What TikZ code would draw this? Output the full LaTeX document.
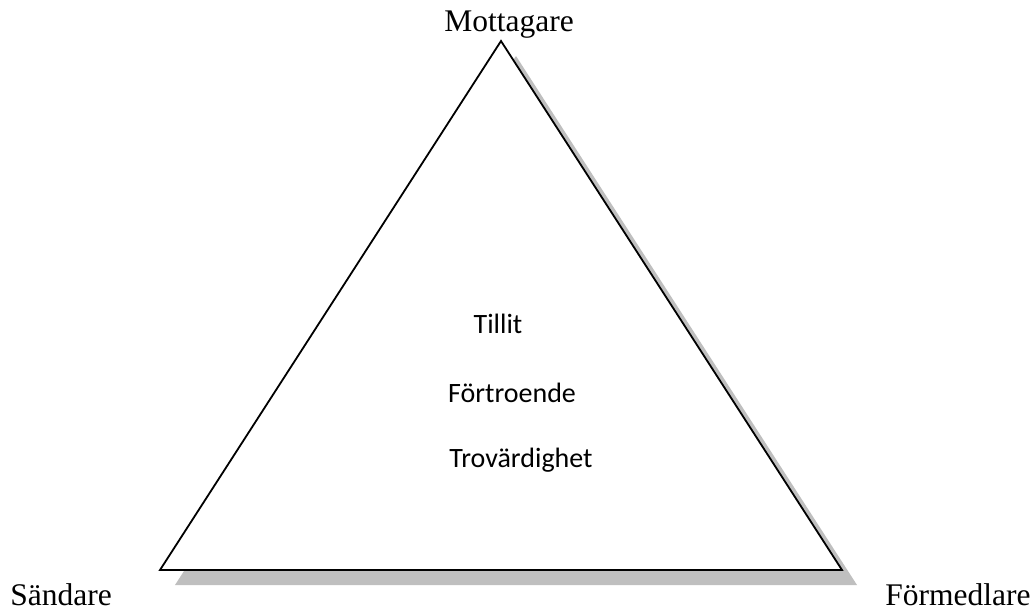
\documentclass[tikz,border=0pt]{standalone}
\usepackage{fontspec}
\setmainfont{Liberation Serif}
\newfontfamily\bodysans{Carlito}
\definecolor{shadowgray}{RGB}{191,191,191}
\begin{document}
\begin{tikzpicture}[x=1pt,y=-1pt,
  cornerlabel/.style={inner sep=0pt,anchor=base,font=\fontsize{31.5}{36}\selectfont},
  innerlabel/.style={inner sep=0pt,anchor=base,font=\bodysans\fontsize{28}{33}\selectfont},
  tri/.style={draw=black,line width=1.8pt,fill=white,line join=miter}]
\useasboundingbox (0,0) rectangle (1032,610);
\coordinate (apex) at (501,41);
\coordinate (bl) at (160,570);
\coordinate (br) at (842,570);
\fill[shadowgray] ([shift={(15,15)}]apex) -- ([shift={(15,15)}]bl) -- ([shift={(15,15)}]br) -- cycle;
\draw[tri] (apex) -- (bl) -- (br) -- cycle;
\node[cornerlabel] (mottagare) at (509,32) {Mottagare};
\node[cornerlabel] (sandare) at (61,605) {Sändare};
\node[cornerlabel] (formedlare) at (958,605) {Förmedlare};
\node[innerlabel] (tillit) at (498,333) {Tillit};
\node[innerlabel] (fortroende) at (512,402) {Förtroende};
\node[innerlabel] (trovardighet) at (521,467) {Trovärdighet};
\end{tikzpicture}
\end{document}
